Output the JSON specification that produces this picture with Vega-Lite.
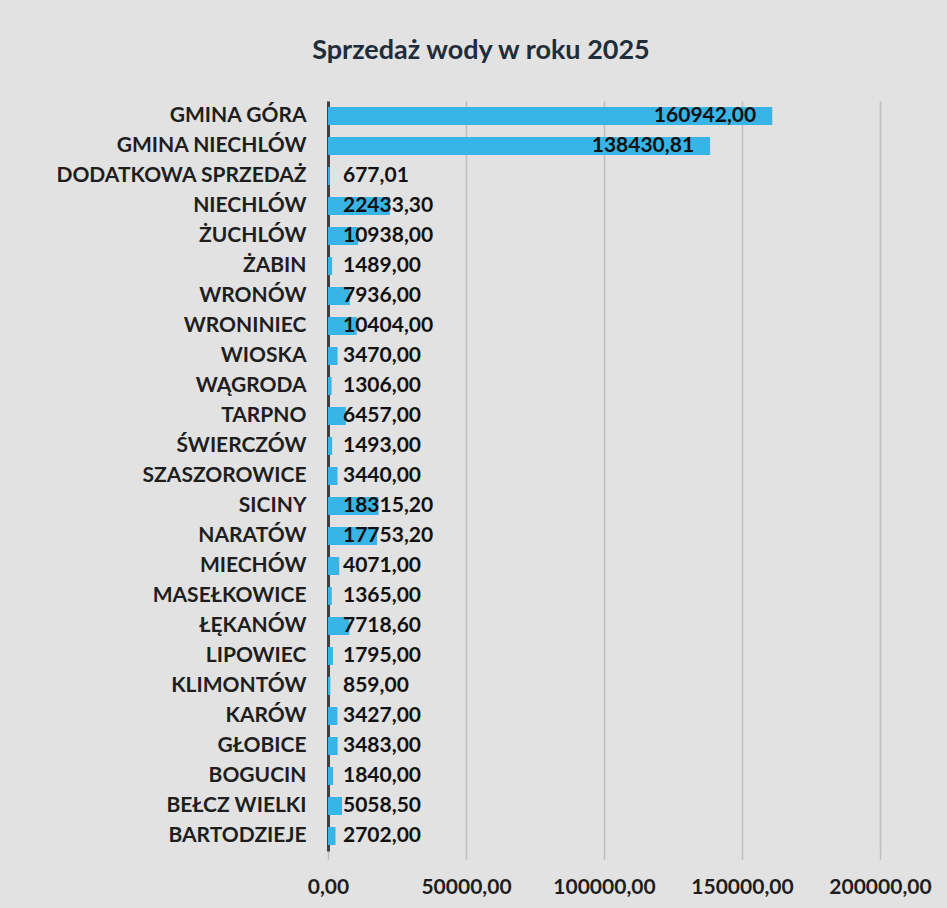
{
  "$schema": "https://vega.github.io/schema/vega-lite/v6.json",
  "autosize": "none",
  "width": 552,
  "height": 750,
  "padding": {"left": 328, "top": 101, "right": 67, "bottom": 57},
  "background": "#e2e2e2",
  "title": {
    "text": "Sprzedaż wody w roku 2025",
    "font": "Lato",
    "fontSize": 27,
    "fontWeight": "bold",
    "color": "#1f2d3a",
    "anchor": "middle",
    "dx": -123,
    "offset": 36
  },
  "config": {
    "locale": {"number": {"decimal": ",", "thousands": "", "grouping": [3], "currency": ["", ""]}},
    "view": {"stroke": null},
    "font": "Lato"
  },
  "data": {
    "values": [
      {"name": "GMINA GÓRA", "value": 160942.00},
      {"name": "GMINA NIECHLÓW", "value": 138430.81},
      {"name": "DODATKOWA SPRZEDAŻ", "value": 677.01},
      {"name": "NIECHLÓW", "value": 22433.30},
      {"name": "ŻUCHLÓW", "value": 10938.00},
      {"name": "ŻABIN", "value": 1489.00},
      {"name": "WRONÓW", "value": 7936.00},
      {"name": "WRONINIEC", "value": 10404.00},
      {"name": "WIOSKA", "value": 3470.00},
      {"name": "WĄGRODA", "value": 1306.00},
      {"name": "TARPNO", "value": 6457.00},
      {"name": "ŚWIERCZÓW", "value": 1493.00},
      {"name": "SZASZOROWICE", "value": 3440.00},
      {"name": "SICINY", "value": 18315.20},
      {"name": "NARATÓW", "value": 17753.20},
      {"name": "MIECHÓW", "value": 4071.00},
      {"name": "MASEŁKOWICE", "value": 1365.00},
      {"name": "ŁĘKANÓW", "value": 7718.60},
      {"name": "LIPOWIEC", "value": 1795.00},
      {"name": "KLIMONTÓW", "value": 859.00},
      {"name": "KARÓW", "value": 3427.00},
      {"name": "GŁOBICE", "value": 3483.00},
      {"name": "BOGUCIN", "value": 1840.00},
      {"name": "BEŁCZ WIELKI", "value": 5058.50},
      {"name": "BARTODZIEJE", "value": 2702.00}
    ]
  },
  "encoding": {
    "y": {
      "field": "name",
      "type": "nominal",
      "sort": null,
      "scale": {"paddingInner": 0.4, "paddingOuter": 0.2},
      "axis": {
        "title": null,
        "ticks": false,
        "labelFont": "Lato",
        "labelFontSize": 21,
        "labelFontWeight": "bold",
        "labelColor": "#1e1e1e",
        "labelPadding": 22,
        "labelLimit": 400,
        "domainColor": "#404040",
        "domainWidth": 3,
        "grid": false
      }
    }
  },
  "layer": [
    {
      "mark": {"type": "bar", "color": "#38b4e6"},
      "encoding": {
        "x": {
          "field": "value",
          "type": "quantitative",
          "scale": {"domain": [0, 200000], "nice": false},
          "axis": {
            "title": null,
            "values": [0, 50000, 100000, 150000, 200000],
            "format": ".2f",
            "domain": false,
            "grid": true,
            "gridColor": "#bdbdbd",
            "gridWidth": 1.5,
            "ticks": true,
            "tickSize": 8,
            "tickColor": "#bdbdbd",
            "tickWidth": 1.5,
            "labelFont": "Lato",
            "labelFontSize": 21,
            "labelFontWeight": "bold",
            "labelColor": "#1e1e1e",
            "labelPadding": 17,
            "labelFlush": false,
            "labelOverlap": false,
            "labelBound": false
          }
        }
      }
    },
    {
      "transform": [{"filter": "datum.value > 100000"}],
      "mark": {"type": "text", "align": "right", "baseline": "middle", "dx": -16, "font": "Lato", "fontSize": 21, "fontWeight": "bold", "color": "#111111"},
      "encoding": {
        "x": {"field": "value", "type": "quantitative"},
        "text": {"field": "value", "type": "quantitative", "format": ".2f"}
      }
    },
    {
      "transform": [{"filter": "datum.value <= 100000"}],
      "mark": {"type": "text", "align": "left", "baseline": "middle", "dx": 15, "x": 0, "font": "Lato", "fontSize": 21, "fontWeight": "bold", "color": "#111111"},
      "encoding": {
        "text": {"field": "value", "type": "quantitative", "format": ".2f"}
      }
    }
  ]
}
